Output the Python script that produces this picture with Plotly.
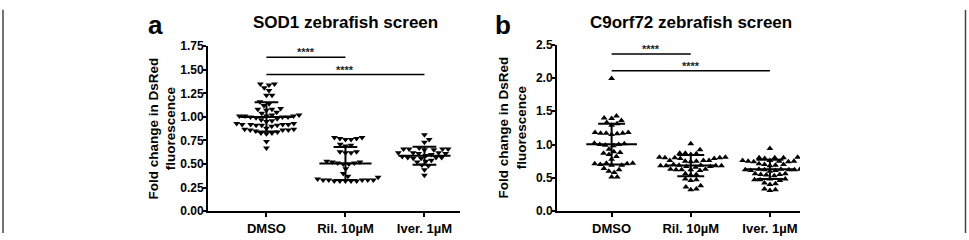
import math
import plotly.graph_objects as go

W, H = 969, 240

categories = ["DMSO", "Ril. 10µM", "Iver. 1µM"]

# Panel a: SOD1 zebrafish screen
sod1_dmso = [1.35, 1.34, 1.35, 1.31, 1.28, 1.23, 1.23, 1.16, 1.14, 1.12, 1.09, 1.08, 1.07, 1.08, 1.05, 1.04,
             1.02, 1.01, 1.01, 1.00, 1.00, 1.01, 1.02, 1.00, 1.01, 0.99,
             0.97, 0.98, 0.96, 0.95,
             0.93, 0.92, 0.92, 0.91, 0.91, 0.92, 0.92, 0.93, 0.91, 0.90,
             0.88, 0.87, 0.86, 0.86, 0.85, 0.86, 0.87,
             0.83, 0.82, 0.83, 0.84, 0.74, 0.67]
sod1_ril = [0.78, 0.77, 0.78, 0.77, 0.76, 0.76, 0.70, 0.71, 0.69, 0.63, 0.62, 0.62, 0.63,
            0.53, 0.52, 0.51, 0.52, 0.50, 0.50, 0.51, 0.45, 0.40, 0.37, 0.36,
            0.33, 0.33, 0.32, 0.32, 0.32, 0.32, 0.32, 0.33, 0.33, 0.33, 0.34]
sod1_iver = [0.81, 0.76, 0.73, 0.67, 0.66, 0.66, 0.65, 0.66, 0.65, 0.66, 0.62, 0.61, 0.62, 0.61, 0.62,
             0.59, 0.60, 0.58, 0.57, 0.57, 0.56, 0.57, 0.56, 0.53, 0.54, 0.52, 0.49, 0.48, 0.44, 0.38]
sod1_mean = [1.00, 0.505, 0.587]
sod1_sd = [0.155, 0.175, 0.095]

# Panel b: C9orf72 zebrafish screen
c9_dmso = [1.99, 1.43, 1.40, 1.39, 1.36, 1.33, 1.31, 1.29, 1.18, 1.17, 1.16, 1.17, 1.15, 1.18, 1.17,
           1.02, 1.01, 1.00, 1.00, 0.99, 0.98, 0.93, 0.89, 0.88, 0.87, 0.85, 0.82, 0.78,
           0.72, 0.71, 0.70, 0.69, 0.69, 0.71, 0.72, 0.64, 0.62, 0.60, 0.58, 0.51, 0.51]
c9_ril = [1.01, 0.92, 0.87, 0.86, 0.87, 0.85, 0.80, 0.80, 0.81, 0.79, 0.80, 0.81, 0.79,
          0.76, 0.75, 0.76, 0.74, 0.75, 0.76, 0.70, 0.69, 0.68, 0.68, 0.67, 0.68, 0.69, 0.67, 0.68, 0.66,
          0.63, 0.62, 0.62, 0.61, 0.63, 0.62, 0.55, 0.54, 0.56, 0.48, 0.47, 0.46, 0.38, 0.36, 0.33, 0.32]
c9_iver = [0.94, 0.80, 0.80, 0.81, 0.79, 0.80, 0.76, 0.75, 0.75, 0.74, 0.76, 0.74, 0.75,
           0.70, 0.69, 0.71, 0.68, 0.70, 0.63, 0.62, 0.62, 0.61, 0.63, 0.62, 0.61, 0.62, 0.63, 0.60,
           0.56, 0.55, 0.56, 0.54, 0.55, 0.53, 0.48, 0.47, 0.47, 0.46, 0.48, 0.42, 0.40, 0.41, 0.33, 0.32, 0.31]
c9_mean = [1.005, 0.684, 0.627]
c9_sd = [0.305, 0.16, 0.145]

# significance brackets: (from group, to group, level)
sod1_sig = [(0, 1, 1.633), (0, 2, 1.45)]
c9_sig = [(0, 1, 2.36), (0, 2, 2.11)]
sig_label = "****"

titles = ["SOD1 zebrafish screen", "C9orf72 zebrafish screen"]
panel_letters = ["a", "b"]
ytitle = "Fold change in DsRed<br>fluorescence"

FONT = "Liberation Sans, Arial, sans-serif"


def px(x):
    return x / W


def py(y):
    return 1 - y / H


def swarm(vals, ypx, xpx, d):
    n = len(vals)
    order = sorted(range(n), key=lambda i: vals[i])
    placed = []
    offs = [0.0] * n
    for i in order:
        y = vals[i] * ypx
        cands = [0.0]
        for xj, yj in placed:
            dy = abs(y - yj)
            if dy < d:
                dx = math.sqrt(d * d - dy * dy)
                cands += [xj + dx, xj - dx]
        cands.sort(key=abs)
        chosen = 0.0
        for c in cands:
            if all((c - xj) ** 2 + (y - yj) ** 2 >= d * d - 1e-6 for xj, yj in placed):
                chosen = c
                break
        offs[i] = chosen
        placed.append((chosen, y))
    return [o / xpx for o in offs]


fig = go.Figure()

panels = [
    dict(groups=[sod1_dmso, sod1_ril, sod1_iver], mean=sod1_mean, sd=sod1_sd, sig=sod1_sig,
         symbol="triangle-down", xa="x", ya="y", xdom=[208, 460], ytop=41.7, ybot=216.7,
         yrange=[0, 1.75], dtick=0.25, fmt=".2f", xrange=[-0.74, 2.45], ypx=100.0,
         mw=0.33, cw=0.15),
    dict(groups=[c9_dmso, c9_ril, c9_iver], mean=c9_mean, sd=c9_sd, sig=c9_sig,
         symbol="triangle-up", xa="x2", ya="y2", xdom=[557, 800], ytop=40.0, ybot=216.7,
         yrange=[0, 2.5], dtick=0.5, fmt=".1f", xrange=[-0.69, 2.38], ypx=176.7 / 2.5,
         mw=0.32, cw=0.17),
]

xpx = 79.0
annotations = []
shapes = []
for k, p in enumerate(panels):
    xs, ys = [], []
    for gi, vals in enumerate(p["groups"]):
        offs = swarm(vals, p["ypx"], xpx, 5.6)
        xs += [gi + o for o in offs]
        ys += vals
    # mean +/- SD
    lx, ly = [], []
    for gi in range(3):
        m, s = p["mean"][gi], p["sd"][gi]
        lx += [gi - p["mw"], gi + p["mw"], None]
        ly += [m, m, None]
        lx += [gi, gi, None]
        ly += [m - s, m + s, None]
        lx += [gi - p["cw"], gi + p["cw"], None, gi - p["cw"], gi + p["cw"], None]
        ly += [m + s, m + s, None, m - s, m - s, None]
    fig.add_trace(go.Scatter(x=lx, y=ly, mode="lines", xaxis=p["xa"], yaxis=p["ya"],
                             line=dict(color="black", width=2), showlegend=False,
                             hoverinfo="skip"))
    fig.add_trace(go.Scatter(x=xs, y=ys, mode="markers", xaxis=p["xa"], yaxis=p["ya"],
                             marker=dict(symbol=p["symbol"], size=6, color="black",
                                         line=dict(width=0)),
                             showlegend=False, hoverinfo="skip"))
    # significance lines
    sx, sy = [], []
    for a, b, lvl in p["sig"]:
        sx += [a, b, None]
        sy += [lvl, lvl, None]
        annotations.append(dict(x=(a + b) / 2, y=lvl, xref=p["xa"], yref=p["ya"],
                                text="<b>" + sig_label + "</b>", showarrow=False,
                                yanchor="bottom", yshift=-3,
                                font=dict(family=FONT, size=11, color="#222222")))
    fig.add_trace(go.Scatter(x=sx, y=sy, mode="lines", xaxis=p["xa"], yaxis=p["ya"],
                             line=dict(color="black", width=1.5), showlegend=False,
                             hoverinfo="skip"))

    axis_suffix = "" if k == 0 else "2"
    xaxis = dict(domain=[px(p["xdom"][0]), px(p["xdom"][1])], range=p["xrange"],
                 tickmode="array", tickvals=[0, 1, 2], ticktext=categories,
                 showline=True, linecolor="black", linewidth=2, ticks="outside",
                 ticklen=4, tickwidth=2, tickcolor="black", showgrid=False, zeroline=False,
                 tickfont=dict(family=FONT, size=13, color="black", weight="bold"),
                 anchor="y" + axis_suffix, fixedrange=True)
    yaxis = dict(domain=[py(p["ybot"]), py(p["ytop"])], range=p["yrange"],
                 dtick=p["dtick"], tick0=0, tickformat=p["fmt"],
                 showline=True, linecolor="black", linewidth=2, ticks="outside",
                 ticklen=3, tickwidth=2, tickcolor="black", showgrid=False, zeroline=False,
                 ticklabelstandoff=-3,
                 tickfont=dict(family=FONT, size=12, color="black", weight="bold"),
                 anchor="x" + axis_suffix, fixedrange=True)
    fig.layout["xaxis" + axis_suffix] = xaxis
    fig.layout["yaxis" + axis_suffix] = yaxis

    # title
    annotations.append(dict(x=1, y=py(16), xref=p["xa"], yref="paper", text="<b>" + titles[k] + "</b>",
                            showarrow=False, xanchor="center", yanchor="middle",
                            font=dict(family=FONT, size=17, color="black")))

# panel letters
annotations.append(dict(x=px(155), y=py(19), xref="paper", yref="paper", text="<b>a</b>",
                        showarrow=False, xanchor="center", yanchor="middle",
                        font=dict(family=FONT, size=26, color="black")))
annotations.append(dict(x=px(503), y=py(19), xref="paper", yref="paper", text="<b>b</b>",
                        showarrow=False, xanchor="center", yanchor="middle",
                        font=dict(family=FONT, size=26, color="black")))
# y axis titles
for xc, yc in [(162, 129), (513, 128)]:
    annotations.append(dict(x=px(xc), y=py(yc), xref="paper", yref="paper", text="<b>" + ytitle + "</b>",
                            showarrow=False, textangle=-90, xanchor="center", yanchor="middle",
                            font=dict(family=FONT, size=13.5, color="black")))

# outer frame lines
for xe in [3, 965.5]:
    shapes.append(dict(type="line", xref="paper", yref="paper", x0=px(xe), x1=px(xe),
                       y0=0, y1=py(3), line=dict(color="#444444", width=1.5)))

fig.update_layout(width=W, height=H, margin=dict(l=0, r=0, t=0, b=0),
                  paper_bgcolor="white", plot_bgcolor="white",
                  annotations=annotations, shapes=shapes, showlegend=False)

fig.write_html("out.html")
